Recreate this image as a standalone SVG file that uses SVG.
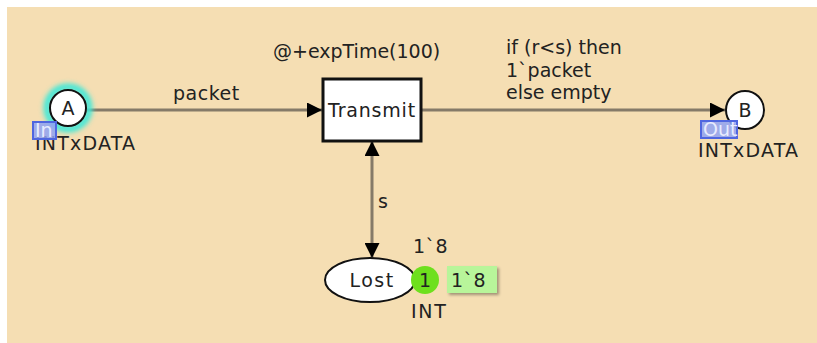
<svg xmlns="http://www.w3.org/2000/svg" width="817" height="343" viewBox="0 0 817 343">
<defs>
<style>
text{font-family:"DejaVu Sans",Verdana,sans-serif;font-size:19px;fill:#222}
.arc{stroke:#857a68;stroke-width:3;fill:none}
.place{fill:#fff;stroke:#111;stroke-width:2}
.tag{fill:#8fa2f2;stroke:#4f66e0;stroke-width:2}
.tagt{fill:#e8ecff;font-size:19px}
.cs{letter-spacing:1.2px}
</style>
<marker id="ah" viewBox="0 0 14 14" refX="14" refY="7" markerWidth="15" markerHeight="15" markerUnits="userSpaceOnUse" orient="auto-start-reverse">
<path d="M0,0 L14,7 L0,14 Z" fill="#000"/>
</marker>
<filter id="glow" x="-50%" y="-50%" width="200%" height="200%"><feGaussianBlur stdDeviation="2.5"/></filter>
<filter id="sh" x="-20%" y="-20%" width="150%" height="150%"><feDropShadow dx="2" dy="2" stdDeviation="1.5" flood-color="#000" flood-opacity="0.35"/></filter>
</defs>
<rect x="7" y="7" width="810" height="336" fill="#f5deb3"/>
<g id="connectors">
<line class="arc" x1="87" y1="110" x2="322" y2="110" marker-end="url(#ah)"/>
<text x="173" y="100" style="letter-spacing:0.5px">packet</text>
<line class="arc" x1="421" y1="110" x2="725" y2="110" marker-end="url(#ah)"/>
<text x="506" y="54">if (r&lt;s) then</text>
<text x="506" y="77">1`packet</text>
<text x="506" y="99">else empty</text>
<line class="arc" x1="372" y1="141" x2="372" y2="258" marker-start="url(#ah)" marker-end="url(#ah)"/>
<text x="378" y="208">s</text>
</g>
<g id="A">
<circle cx="68" cy="108" r="21" fill="none" stroke="#3fe8d8" stroke-width="7" filter="url(#glow)"/>
<circle class="place" cx="68" cy="108" r="18"/>
<text x="68" y="115" text-anchor="middle">A</text>
<text class="cs" x="35" y="150">INTxDATA</text>
<rect class="tag" x="33" y="122" width="23" height="17" fill-opacity="0.85"/>
<text class="tagt" x="35" y="137">In</text>
</g>
<g id="Transmit">
<rect x="323" y="79" width="98" height="62" fill="#fff" stroke="#111" stroke-width="3"/>
<text x="372" y="117" text-anchor="middle" style="letter-spacing:0.8px">Transmit</text>
<text x="273" y="58">@+expTime(100)</text>
</g>
<g id="B">
<circle class="place" cx="745" cy="110" r="19"/>
<text x="745" y="117" text-anchor="middle">B</text>
<text class="cs" x="698" y="157">INTxDATA</text>
<rect class="tag" x="701" y="121" width="36" height="17" fill-opacity="0.85"/>
<text class="tagt" x="703" y="136">Out</text>
</g>
<g id="Lost">
<ellipse class="place" cx="370" cy="280" rx="45" ry="22"/>
<text x="372" y="287" text-anchor="middle" style="letter-spacing:1.5px">Lost</text>
<text x="413" y="253" style="letter-spacing:0.5px">1`8</text>
<circle cx="425" cy="280" r="14" fill="#6ee01e"/>
<text x="425" y="287" text-anchor="middle">1</text>
<rect x="447" y="266" width="50" height="27" fill="#b8f59a" filter="url(#sh)"/>
<text x="451" y="287" style="letter-spacing:0.5px">1`8</text>
<text x="411" y="318" style="letter-spacing:1.7px">INT</text>
</g>
</svg>
